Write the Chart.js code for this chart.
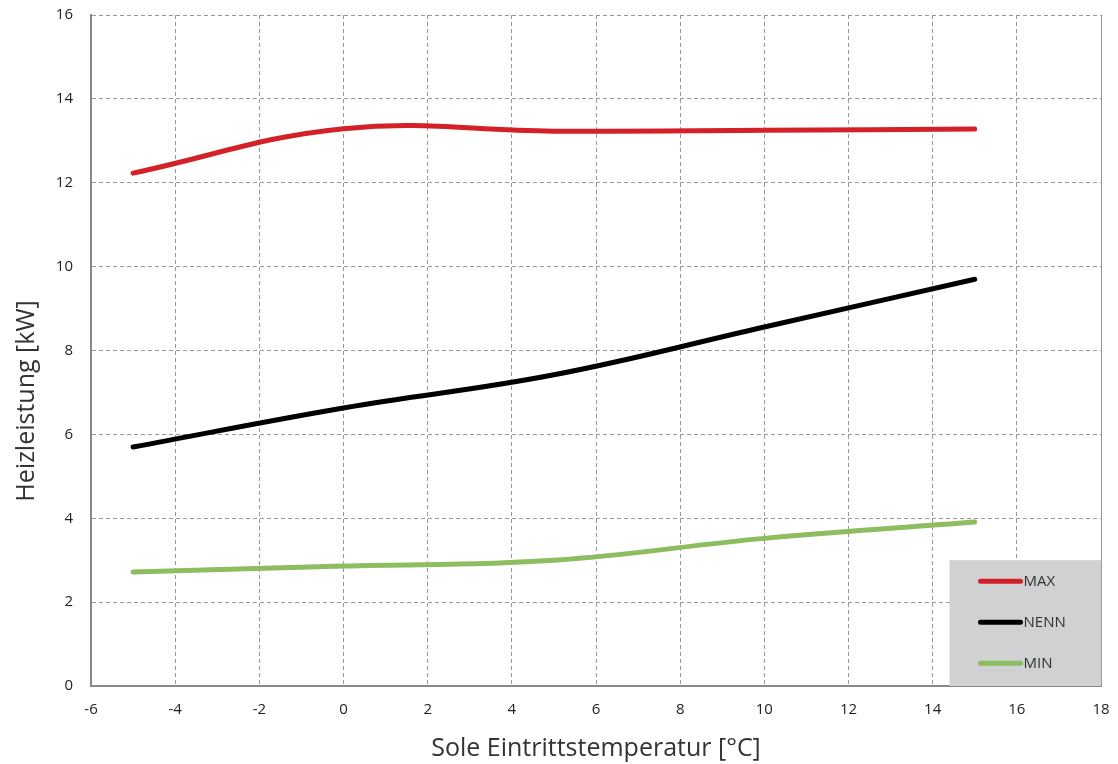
<!DOCTYPE html>
<html lang="de">
<head>
  <meta charset="UTF-8" />
  <title>Heizleistung</title>
  <script src="https://cdn.jsdelivr.net/npm/chart.js"></script>
  <style>
    body { margin: 0; background: #fff; }
    #wrap { width: 1118px; height: 764px; }
  </style>
</head>
<body>
  <div id="wrap"><canvas id="chart"></canvas></div>
  <script>
    const temps = [-5, 0, 5, 10, 15];
    const maxVals = [12.23, 13.29, 13.23, 13.25, 13.28];
    const nennVals = [5.70, 6.63, 7.42, 8.56, 9.70];
    const minVals = [2.72, 2.86, 3.00, 3.52, 3.91];
    const seriesNames = ["MAX", "NENN", "MIN"];
    const seriesColors = ["#d42027", "#000000", "#8cbd5e"];
    const yTitle = "Heizleistung [kW]";

    const toPoints = vals => temps.map((t, i) => ({ x: t, y: vals[i] }));

    // graue Legendenbox unten rechts im Diagramm + y-Achsentitel (nicht mittig)
    const extras = {
      id: "extras",
      beforeDatasetsDraw(chart) {
        const { ctx, chartArea, scales } = chart;
        const x0 = scales.x.getPixelForValue(14.4);
        const y0 = scales.y.getPixelForValue(3);
        ctx.save();
        ctx.fillStyle = "#d0d1d3";
        ctx.fillRect(x0, y0, chartArea.right - x0, chartArea.bottom - y0);
        ctx.font = "15px 'Open Sans'";
        ctx.textBaseline = "middle";
        chart.data.datasets.forEach((ds, i) => {
          const y = y0 + 21 + i * 41;
          ctx.strokeStyle = ds.borderColor;
          ctx.lineWidth = 5;
          ctx.lineCap = "round";
          ctx.beginPath();
          ctx.moveTo(x0 + 31, y);
          ctx.lineTo(x0 + 71, y);
          ctx.stroke();
          ctx.fillStyle = "#333";
          ctx.fillText(ds.label, x0 + 74, y + 1);
        });
        ctx.restore();
      },
      afterDraw(chart) {
        const ctx = chart.ctx;
        ctx.save();
        ctx.translate(27, 401);
        ctx.rotate(-Math.PI / 2);
        ctx.font = "25px 'Open Sans'";
        ctx.fillStyle = "#333";
        ctx.textAlign = "center";
        ctx.textBaseline = "middle";
        ctx.fillText(yTitle, 0, 0);
        ctx.restore();
      }
    };

    new Chart(document.getElementById("chart"), {
      type: "line",
      data: {
        datasets: [maxVals, nennVals, minVals].map((vals, i) => ({
          label: seriesNames[i],
          data: toPoints(vals),
          borderColor: seriesColors[i],
          borderWidth: 5,
          borderCapStyle: "round",
          pointRadius: 0,
          tension: 0.4,
          fill: false
        }))
      },
      options: {
        responsive: true,
        maintainAspectRatio: false,
        animation: false,
        layout: { padding: { left: 0, right: 17, top: 15, bottom: 0 } },
        plugins: { legend: { display: false }, tooltip: { enabled: false } },
        scales: {
          x: {
            type: "linear",
            min: -6, max: 18,
            ticks: { stepSize: 2, color: "#222", font: { family: "Open Sans", size: 15 }, padding: 15 },
            grid: { color: "#999", lineWidth: 1, drawTicks: false },
            border: {
              display: true, color: "#888", width: 2,
              dash: c => (c.tick && c.tick.value === 18) ? [] : [4, 3]
            },
            title: { display: true, text: "Sole Eintrittstemperatur [°C]", color: "#333",
                     font: { family: "Open Sans", size: 25 }, padding: { top: 4, bottom: 0 } },
            afterFit: s => { s.height = 78; s.paddingLeft = 0; s.paddingRight = 0; }
          },
          y: {
            min: 0, max: 16,
            ticks: { stepSize: 2, color: "#222", font: { family: "Open Sans", size: 15 }, padding: 18 },
            grid: { color: "#999", lineWidth: 1, drawTicks: false },
            border: { display: true, color: "#888", width: 2, dash: [4, 3] },
            afterFit: s => { s.width = 91; s.paddingTop = 0; s.paddingBottom = 0; }
          }
        }
      },
      plugins: [extras]
    });
  </script>
</body>
</html>
